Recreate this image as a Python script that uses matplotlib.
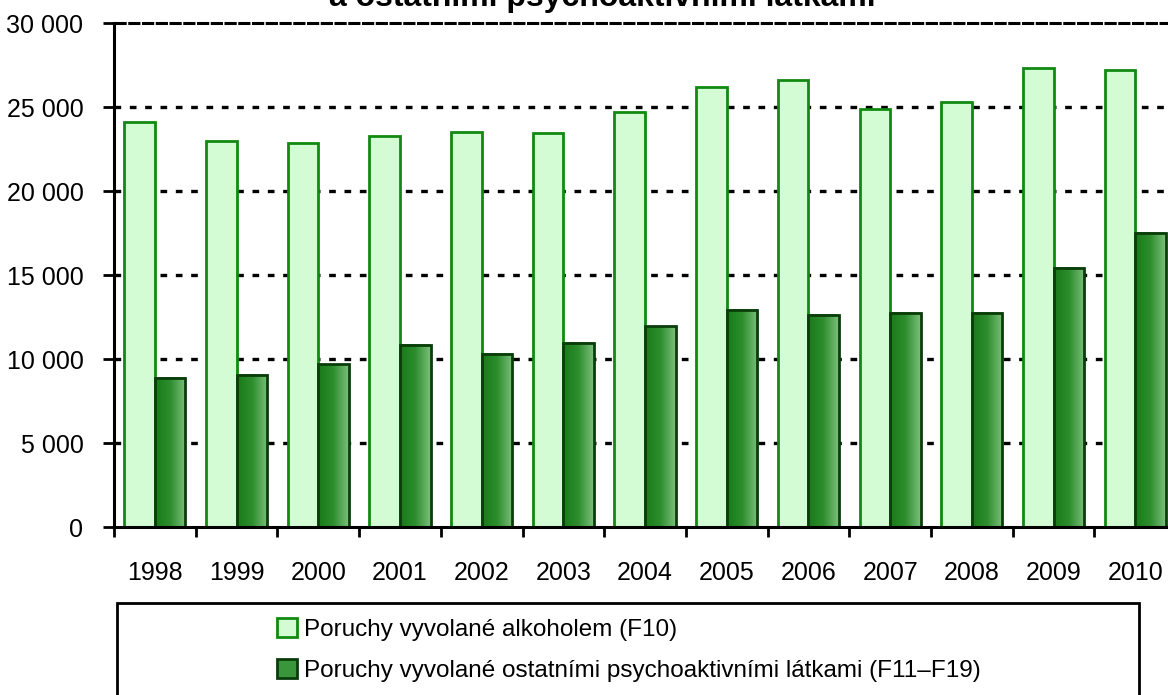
import numpy as np
import matplotlib.pyplot as plt
from matplotlib.colors import LinearSegmentedColormap
from matplotlib.patches import Rectangle, Patch

years = ['1998', '1999', '2000', '2001', '2002', '2003', '2004',
         '2005', '2006', '2007', '2008', '2009', '2010']
alcohol = [24130, 23010, 22890, 23290, 23530, 23470, 24740,
           26200, 26630, 24920, 25320, 27320, 27220]
other = [8900, 9050, 9700, 10870, 10315, 10970, 11960,
         12940, 12640, 12740, 12770, 15450, 17520]
yticks = [0, 5000, 10000, 15000, 20000, 25000, 30000]
ytick_labels = ['0', '5 000', '10 000', '15 000', '20 000', '25 000', '30 000']
title = 'a ostatními psychoaktivními látkami'
label_alcohol = 'Poruchy vyvolané alkoholem (F10)'
label_other = 'Poruchy vyvolané ostatními psychoaktivními látkami (F11–F19)'

plt.rcParams['font.family'] = ['Liberation Sans', 'DejaVu Sans']

W, H = 1168, 695
fig = plt.figure(figsize=(W / 100, H / 100), dpi=100)
ax = fig.add_axes([114 / W, (H - 527.3) / H, 13 * 81.7 / W, 504 / H])

x = np.arange(len(years))
w = 0.375

# grid lines behind the bars
for v in yticks[1:-1]:
    ax.axhline(v, color='black', lw=2.4, ls=(0, (2.0, 2.6)), zorder=1)
ax.axhline(30000, color='black', lw=2.2, ls=(0, (4, 0.5)), zorder=1, clip_on=False)

ax.bar(x - w / 2, alcohol, w, color='#d4fcd4', edgecolor='#118a11',
       linewidth=2, zorder=3)
dark = ax.bar(x + w / 2, other, w, color='none', edgecolor='#0b3d0b',
              linewidth=2, zorder=4)

cmap = LinearSegmentedColormap.from_list('g', ['#177a17', '#2e8e2e', '#7cc07c'])
grad = np.linspace(0, 1, 100).reshape(1, -1)
for b in dark:
    ax.imshow(grad, cmap=cmap, aspect='auto', zorder=3.5, interpolation='bilinear',
              extent=[b.get_x(), b.get_x() + b.get_width(), 0, b.get_height()])

ax.set_xlim(-0.5, 12.5)
ax.set_ylim(0, 30000)

for s in ['top', 'right']:
    ax.spines[s].set_visible(False)
for s in ['left', 'bottom']:
    ax.spines[s].set_linewidth(2.2)
    ax.spines[s].set_zorder(5)

ax.set_yticks(yticks)
ax.set_yticklabels(ytick_labels)
ax.tick_params(axis='y', length=8, width=2, pad=14, labelsize=18)

ax.set_xticks(np.arange(-0.5, 13, 1))
ax.set_xticklabels([])
ax.tick_params(axis='x', which='major', length=7.5, width=2)
ax.set_xticks(x, minor=True)
ax.set_xticklabels(years, minor=True)
ax.tick_params(axis='x', which='minor', length=0, pad=24, labelsize=18)

fig.text(602 / W, 1 - 6 / H, title, ha='center', va='baseline',
         fontsize=23, fontweight='bold')

# legend box
fig.add_artist(Rectangle((117 / W, -0.1), (1139 - 117) / W, 0.1 + (H - 603) / H,
                         transform=fig.transFigure, fill=False,
                         edgecolor='black', linewidth=2))
handles = [Patch(facecolor='#d4fcd4', edgecolor='#118a11', linewidth=2),
           Patch(facecolor='#3a963a', edgecolor='#0b3d0b', linewidth=2)]
fig.legend(handles, [label_alcohol, label_other], loc='center left',
           bbox_to_anchor=(277 / W, 1 - 650 / H), frameon=False, fontsize=17.5,
           handlelength=0.82, handleheight=0.82, handletextpad=0.3,
           labelspacing=0.74, borderpad=0, borderaxespad=0)

fig.savefig('out.png', dpi=100)
